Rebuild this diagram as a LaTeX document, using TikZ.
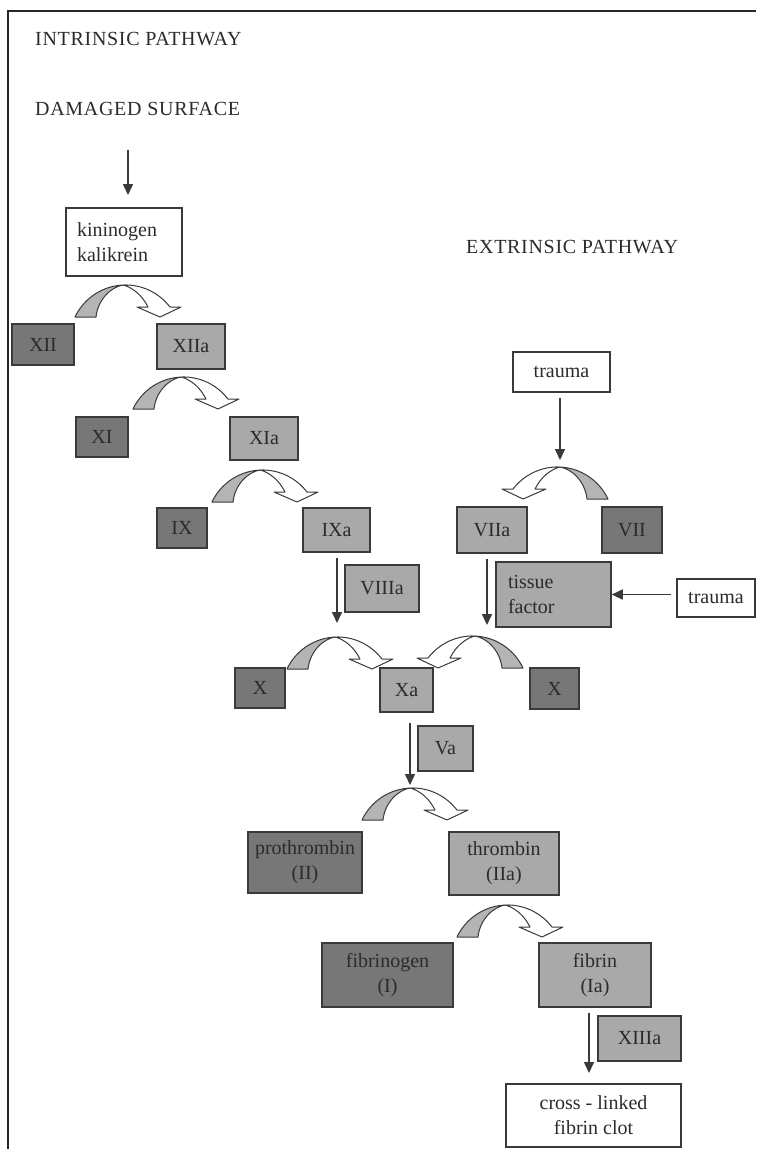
\documentclass[tikz,border=0pt]{standalone}
\usepackage{fontspec}
\setmainfont{Liberation Serif}
\newfontfamily\ttlfont[LetterSpace=3.5]{Liberation Serif}
\usetikzlibrary{arrows.meta}
\definecolor{edgec}{HTML}{3A3A3A}
\definecolor{darkc}{HTML}{777777}
\definecolor{lightc}{HTML}{A9A9A9}
\definecolor{agray}{HTML}{B4B4B4}
\definecolor{txt}{HTML}{2B2B2B}
\tikzset{
 carrow/.pic={
  \begin{scope}[yscale=-1]
   \filldraw[draw=edgec, fill=agray, line width=1pt, line join=round]
     (0,0) arc[start angle=154.7, end angle=92, radius=55.9]
     .. controls (38,31) and (23,19) .. (21,0) -- cycle;
   \filldraw[draw=edgec, fill=white, line width=1pt, line join=round]
     (48.5,32) arc[start angle=92, end angle=37.3, radius=55.9]
     -- (106,10) -- (85,0) -- (62,10) -- (73,10)
     .. controls (67,22) and (58,29) .. (48.5,32) -- cycle;
   \coordinate (-top) at (50.5,32);
  \end{scope}
 }
}
\begin{document}
\begin{tikzpicture}[x=1pt,y=-1pt, font=\fontsize{20}{25}\selectfont,
 box/.style={draw=edgec, line width=1.5pt, inner sep=0pt, align=center, text=txt},
 dbox/.style={box, fill=darkc},
 lbox/.style={box, fill=lightc},
 wbox/.style={box, fill=white},
 ttl/.style={anchor=base west, inner sep=0pt, text=txt, font=\ttlfont\fontsize{20}{25}\selectfont},
 arr/.style={draw=edgec, line width=1.5pt, -{Triangle[width=10pt,length=11pt]}}]
\useasboundingbox (0,0) rectangle (756,1149);
\fill[white] (0,0) rectangle (756,1149);
% frame
\draw[line width=2pt, black!85] (8,1149) -- (8,11) -- (756,11);
% titles
\node[ttl] (intr) at (35,45) {INTRINSIC PATHWAY};
\node[ttl] (ds) at (35,115) {DAMAGED SURFACE};
\node[ttl] (extr) at (466,253) {EXTRINSIC PATHWAY};
% boxes
\node[wbox, minimum width=116, minimum height=68, text width=94, align=left, inner xsep=11pt] (kin) at (124,242) {kininogen\\kalikrein};
\node[dbox, minimum width=62, minimum height=41] (xii) at (43,344.5) {XII};
\node[lbox, minimum width=68, minimum height=45] (xiia) at (191,346.5) {XIIa};
\node[dbox, minimum width=52, minimum height=40] (xi) at (102,437) {XI};
\node[lbox, minimum width=68, minimum height=43] (xia) at (264,438.5) {XIa};
\node[dbox, minimum width=50, minimum height=40] (ix) at (182,528) {IX};
\node[lbox, minimum width=67, minimum height=44] (ixa) at (336.5,530) {IXa};
\node[lbox, minimum width=74, minimum height=47] (viiia) at (382,588.5) {VIIIa};
\node[wbox, minimum width=97, minimum height=40] (tr1) at (561.5,372) {trauma};
\node[lbox, minimum width=70, minimum height=46] (viia) at (492,530) {VIIa};
\node[dbox, minimum width=60, minimum height=46] (vii) at (632,530) {VII};
\node[lbox, minimum width=115, minimum height=65, text width=91, align=left, inner xsep=12pt] (tissue) at (553.5,594.5) {tissue\\factor};
\node[wbox, minimum width=78, minimum height=38] (tr2) at (716,598) {trauma};
\node[dbox, minimum width=50, minimum height=40] (xl) at (260,688) {X};
\node[lbox, minimum width=53, minimum height=44] (xa) at (406.5,690) {Xa};
\node[dbox, minimum width=49, minimum height=41] (xr) at (554.5,688.5) {X};
\node[lbox, minimum width=55, minimum height=45] (va) at (445.5,748.5) {Va};
\node[dbox, minimum width=114, minimum height=61] (proth) at (305,862.5) {prothrombin\\(II)};
\node[lbox, minimum width=110, minimum height=63] (thromb) at (504,863.5) {thrombin\\(IIa)};
\node[dbox, minimum width=131, minimum height=64] (fibgen) at (387.5,975) {fibrinogen\\(I)};
\node[lbox, minimum width=112, minimum height=64] (fibrin) at (595,975) {fibrin\\(Ia)};
\node[lbox, minimum width=83, minimum height=45] (xiiia) at (639.5,1038.5) {XIIIa};
\node[wbox, minimum width=175, minimum height=63] (clot) at (593.5,1115.5) {cross - linked\\fibrin clot};
% curved block arrows
\pic (pa1) at (75,317) {carrow};
\pic (pa2) at (133,409) {carrow};
\pic (pa3) at (212,502) {carrow};
\pic[xscale=-1] (pvii) at (608,499) {carrow};
\pic (pa4) at (287,669) {carrow};
\pic[xscale=-1] (pa5) at (523,668) {carrow};
\pic (pa6) at (362,820) {carrow};
\pic (pa7) at (457,937) {carrow};
% straight arrows
\coordinate (k1) at (128,195);
\coordinate (k3) at (560,460);
\coordinate (k4) at (337,623);
\coordinate (k5) at (487,625);
\coordinate (k6) at (410,785);
\coordinate (k8) at (589,1073);
\draw[arr, shorten <=35pt] (ds.south -| k1) -- (k1);
\draw[arr, shorten <=5pt] (tr1.south -| k3) -- (k3);
\draw[arr, shorten <=5pt] (ixa.south -| k4) -- (k4);
\draw[arr, shorten <=5pt] (viia.south -| k5) -- (k5);
\draw[arr, shorten <=10pt] (xa.south -| k6) -- (k6);
\draw[arr, shorten <=5pt] (fibrin.south -| k8) -- (k8);
\draw[arr, shorten <=5pt] (tr2.west |- tissue.east) -- (tissue.east);
\end{tikzpicture}
\end{document}
